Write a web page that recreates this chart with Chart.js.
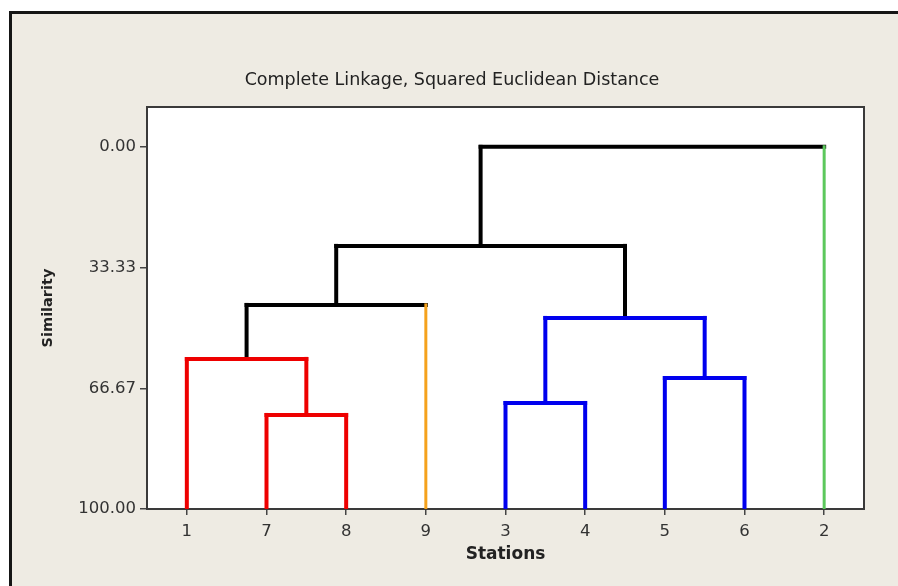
<!DOCTYPE html>
<html>
<head>
<meta charset="utf-8">
<script src="https://cdn.jsdelivr.net/npm/chart.js@4/dist/chart.umd.min.js"></script>
<style>
    body { margin: 0; background: #fff; overflow: hidden; }
    #frame {
        position: absolute; left: 9px; top: 11px; width: 1000px; height: 700px;
        border-top: 3px solid #151515; border-left: 3px solid #151515;
        background: #eeebe3;
    }
    #wrap { position: absolute; left: 0; top: 0; width: 898px; height: 586px; }
</style>
</head>
<body>
<div id="frame"></div>
<div id="wrap"><canvas id="dendro" width="898" height="586"></canvas></div>
<script>
// leaves in display order
const stations = ['1', '7', '8', '9', '3', '4', '5', '6', '2'];
const leafColors = ['#ee0000', '#ee0000', '#ee0000', '#f5a21c', '#0000ee', '#0000ee', '#0000ee', '#0000ee', '#5cc85c'];

// merges, bottom up. node ids 0-8 are leaves, 9+ are the merges in this order
const mergeLeft = [1, 4, 6, 0, 10, 12, 14, 15];
const mergeRight = [2, 5, 7, 9, 11, 3, 13, 8];
const mergeSimilarity = [74.03, 70.72, 63.81, 58.56, 47.24, 43.65, 27.35, 0.00];
const mergeColors = ['#ee0000', '#0000ee', '#0000ee', '#ee0000', '#0000ee', '#000000', '#000000', '#000000'];

const yTicks = [0, 33.33, 66.67, 100];

const nodeX = stations.map((s, i) => i + 1);
const nodeY = stations.map(() => 100);
for (let k = 0; k < mergeLeft.length; k++) {
    nodeX.push((nodeX[mergeLeft[k]] + nodeX[mergeRight[k]]) / 2);
    nodeY.push(mergeSimilarity[k]);
}

function seg(x1, y1, x2, y2, color, width) {
    return {
        data: [{x: x1, y: y1}, {x: x2, y: y2}],
        borderColor: color,
        borderWidth: width,
        borderCapStyle: 'square',
        showLine: true,
        pointRadius: 0,
        pointHoverRadius: 0
    };
}

const datasets = [];
for (let k = 0; k < mergeLeft.length; k++) {
    const h = mergeSimilarity[k];
    const l = mergeLeft[k], r = mergeRight[k];
    [l, r].forEach(c => {
        const isLeaf = c < stations.length;
        const col = isLeaf ? leafColors[c] : mergeColors[k];
        const w = (col === '#f5a21c' || col === '#5cc85c') ? 3 : 4;
        datasets.push(seg(nodeX[c], nodeY[c], nodeX[c], h, col, w));
    });
    datasets.push(seg(nodeX[l], h, nodeX[r], h, mergeColors[k], 4));
}

const plotFrame = {
    id: 'plotFrame',
    beforeDatasetsDraw(chart) {
        const a = chart.chartArea;
        const ctx = chart.ctx;
        ctx.save();
        ctx.fillStyle = '#fff';
        ctx.fillRect(a.left, a.top, a.right - a.left, a.bottom - a.top);
        ctx.strokeStyle = '#3a3a3a';
        ctx.lineWidth = 2;
        ctx.strokeRect(a.left, a.top, a.right - a.left, a.bottom - a.top);
        ctx.restore();
    }
};

Chart.defaults.font.family = '"DejaVu Sans", sans-serif';

new Chart(document.getElementById('dendro'), {
    type: 'scatter',
    data: {datasets: datasets},
    options: {
        responsive: false,
        animation: false,
        layout: {padding: {left: 40, right: 34, top: 70, bottom: 0}},
        plugins: {
            legend: {display: false},
            tooltip: {enabled: false},
            title: {
                display: true,
                text: 'Complete Linkage, Squared Euclidean Distance',
                color: '#222',
                font: {size: 17.5, weight: 'normal'},
                padding: {top: 0, bottom: 16}
            }
        },
        scales: {
            x: {
                type: 'linear',
                min: 0.5,
                max: 9.5,
                afterBuildTicks: axis => { axis.ticks = stations.map((s, i) => ({value: i + 1})); },
                afterFit: axis => { axis.height = 77; },
                ticks: {
                    callback: v => stations[v - 1],
                    color: '#333',
                    font: {size: 16.5},
                    padding: 7,
                    maxRotation: 0
                },
                grid: {drawOnChartArea: false, drawTicks: true, tickLength: 6, color: '#444', lineWidth: 1.5},
                border: {display: false},
                title: {
                    display: true,
                    text: 'Stations',
                    color: '#222',
                    font: {size: 17, weight: 'bold'},
                    padding: {top: 4, bottom: 21}
                }
            },
            y: {
                type: 'linear',
                reverse: true,
                min: -11,
                max: 100,
                afterBuildTicks: axis => { axis.ticks = yTicks.map(v => ({value: v})); },
                afterFit: axis => { axis.width = 107; },
                ticks: {
                    callback: v => v.toFixed(2),
                    color: '#333',
                    font: {size: 16.5},
                    padding: 4
                },
                grid: {drawOnChartArea: false, drawTicks: true, tickLength: 7, color: '#444', lineWidth: 1.5},
                border: {display: false},
                title: {
                    display: true,
                    text: 'Similarity',
                    color: '#222',
                    font: {size: 14.5, weight: 'bold'},
                    padding: {top: 0, bottom: 0}
                }
            }
        }
    },
    plugins: [plotFrame]
});
</script>
</body>
</html>
